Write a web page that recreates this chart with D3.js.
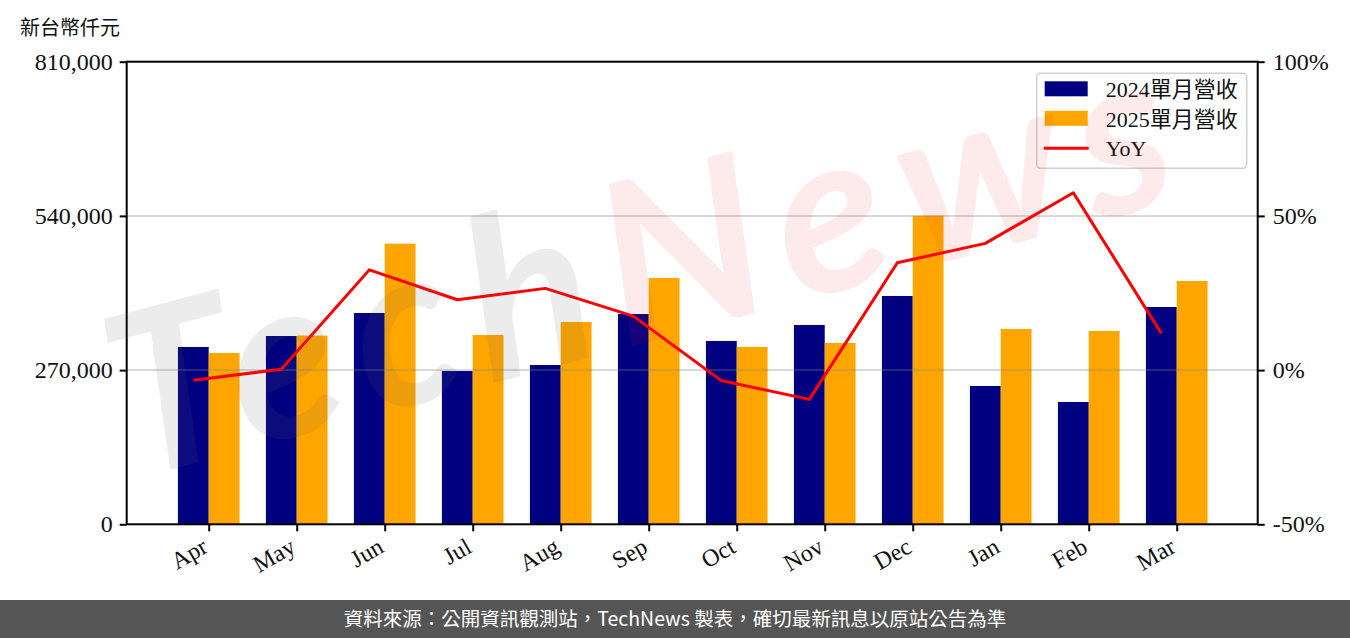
<!DOCTYPE html>
<html>
<head>
<meta charset="utf-8">
<script src="https://cdn.jsdelivr.net/npm/d3@7"></script>
<style>
  body { margin: 0; background: #fff; }
  svg { display: block; }
  .serif { font-family: "Liberation Serif", "Noto Sans CJK TC", serif; }
</style>
</head>
<body>
<svg id="chart" width="1350" height="638"></svg>
<script>
// ---- 資料（單位：新台幣仟元；YoY 為 %）----
const months = ["Apr", "May", "Jun", "Jul", "Aug", "Sep", "Oct", "Nov", "Dec", "Jan", "Feb", "Mar"];
const rev2024 = [310500, 329700, 370000, 268400, 278900, 368200, 321000, 349000, 399800, 242200, 214200, 380500];
const rev2025 = [300000, 330500, 491400, 331500, 354200, 431300, 310500, 317500, 540400, 342000, 338500, 426000];
const yoy = [-3.3, 0.3, 32.5, 22.8, 26.5, 17.5, -3.4, -9.5, 34.8, 41.1, 57.5, 11.9];
const leftTicks = [0, 270000, 540000, 810000];
const rightTicks = [-50, 0, 50, 100];
const legendLabels = ["2024單月營收", "2025單月營收", "YoY"];

const C24 = "#000080", C25 = "#FFA500", CYOY = "#FF0000";
const svg = d3.select("#chart");
const P = { left: 126.7, right: 1257.7, top: 61.7, bottom: 524.3 };

const x = d3.scaleLinear().domain([-0.932, 11.92]).range([P.left, P.right]);
const y = d3.scaleLinear().domain([0, 810000]).range([P.bottom, P.top]);
const yr = d3.scaleLinear().domain([-50, 100]).range([P.bottom, P.top]);
const bw = 0.35;

// ---- 長條 ----
const g = svg.append("g");
g.selectAll("rect.b24").data(rev2024).join("rect").attr("class", "b24")
  .attr("x", (d, i) => x(i - bw)).attr("width", (d, i) => x(i) - x(i - bw))
  .attr("y", (d) => y(d)).attr("height", (d) => y(0) - y(d)).attr("fill", C24);
g.selectAll("rect.b25").data(rev2025).join("rect").attr("class", "b25")
  .attr("x", (d, i) => x(i)).attr("width", (d, i) => x(i + bw) - x(i))
  .attr("y", (d) => y(d)).attr("height", (d) => y(0) - y(d)).attr("fill", C25);

// ---- 格線（畫在長條上方，半透明）----
g.selectAll("line.grid").data(leftTicks.slice(1, 3)).join("line").attr("class", "grid")
  .attr("x1", P.left).attr("x2", P.right).attr("y1", (d) => y(d)).attr("y2", (d) => y(d))
  .attr("stroke", "#808080").attr("stroke-opacity", 0.3).attr("stroke-width", 2);

// ---- YoY 折線 ----
const line = d3.line().x((d, i) => x(i - bw / 2)).y((d) => yr(d));
g.append("path").datum(yoy).attr("d", line).attr("fill", "none")
  .attr("stroke", CYOY).attr("stroke-width", 3).attr("stroke-linejoin", "round");

// ---- 座標軸 ----
function styleAxis(sel) {
  sel.select(".domain").remove();
  sel.selectAll(".tick line").attr("stroke", "#000").attr("stroke-width", 2);
  sel.selectAll(".tick text").attr("class", "serif").attr("fill", "#111").style("font-size", "24px");
}
svg.append("g").attr("transform", `translate(${P.left},0)`)
  .call(d3.axisLeft(y).tickValues(leftTicks).tickFormat(d3.format(",")).tickSize(7).tickPadding(7))
  .call(styleAxis);
svg.append("g").attr("transform", `translate(${P.right},0)`)
  .call(d3.axisRight(yr).tickValues(rightTicks).tickFormat((d) => d + "%").tickSize(7).tickPadding(8))
  .call(styleAxis);
const xa = svg.append("g").attr("transform", `translate(0,${P.bottom})`)
  .call(d3.axisBottom(x).tickValues(d3.range(months.length)).tickFormat((i) => months[i]).tickSize(7))
  .call(styleAxis);
xa.selectAll(".tick text").attr("y", null).attr("dy", null)
  .attr("text-anchor", "end").attr("transform", "translate(0,27) rotate(-30)");

// 外框
svg.append("rect").attr("x", P.left).attr("y", P.top)
  .attr("width", P.right - P.left).attr("height", P.bottom - P.top)
  .attr("fill", "none").attr("stroke", "#000").attr("stroke-width", 2);

// 單位
svg.append("text").attr("x", 20).attr("y", 35).attr("class", "serif")
  .style("font-size", "20px").attr("fill", "#111").text("新台幣仟元");

// ---- 圖例 ----
const lg = svg.append("g").attr("transform", "translate(1036.7,73.3)");
lg.append("rect").attr("width", 210).attr("height", 95).attr("rx", 4)
  .attr("fill", "#fff").attr("fill-opacity", 0.8).attr("stroke", "#d0d0d0").attr("stroke-width", 1.5);
const li = lg.selectAll("g.it").data(legendLabels).join("g").attr("class", "it")
  .attr("transform", (d, i) => `translate(0,${16 + i * 29.5})`);
li.filter((d, i) => i < 2).append("rect").attr("x", 8).attr("y", -8).attr("width", 43).attr("height", 15)
  .attr("fill", (d, i) => (i === 0 ? C24 : C25));
li.filter((d, i) => i === 2).append("line").attr("x1", 7).attr("x2", 52)
  .attr("stroke", CYOY).attr("stroke-width", 3);
li.append("text").attr("x", 69).attr("y", 8).attr("class", "serif")
  .style("font-size", "22px").attr("fill", "#111").text((d) => d);

// ---- 浮水印 ----
const wm = svg.append("text").attr("transform", "translate(132,480) rotate(-15)")
  .style("font-family", "Lato, 'DejaVu Sans', sans-serif").style("font-weight", 700)
  .style("font-style", "italic").style("font-size", "225px")
  .attr("textLength", 1090).attr("lengthAdjust", "spacing");
wm.append("tspan").attr("fill", "rgb(100,100,100)").attr("fill-opacity", 0.12).text("Tech");
wm.append("tspan").attr("fill", "rgb(230,30,30)").attr("fill-opacity", 0.09).text("News");

// ---- 頁尾 ----
svg.append("rect").attr("x", 0).attr("y", 600).attr("width", 1350).attr("height", 38).attr("fill", "#555");
svg.append("text").attr("x", 675).attr("y", 626).attr("text-anchor", "middle")
  .style("font-family", "'Noto Sans CJK TC', 'Noto Sans', sans-serif").style("font-size", "19.5px")
  .attr("fill", "#fff").text("資料來源：公開資訊觀測站，TechNews 製表，確切最新訊息以原站公告為準");
</script>
</body>
</html>
